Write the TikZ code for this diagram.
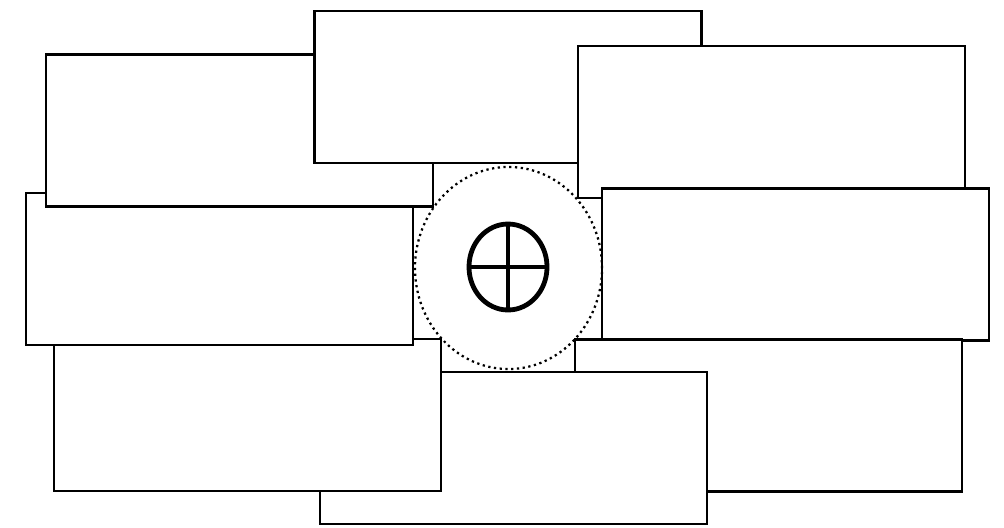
\documentclass[tikz,border=0pt]{standalone}
\usepackage{tikz}

\begin{document}
\begin{tikzpicture}[x=0.025cm, y=-0.025cm,
    card/.style={draw, fill=white, line width=1.8pt, minimum width=9.675cm,
        minimum height=3.8cm, inner sep=0pt, outer sep=0pt}]

    % The frame is measured in pixels, y pointing down
    \useasboundingbox (0,0) rectangle (1004,527);
    \def\rx{0.975cm}
    \def\ry{1.075cm}

    % The eight cards lie in a ring, each one partly under the next
    \node[card] (tc) at (508,87) {};
    \node[card] (tr) at (771.5,122) {};
    \node[card] (mr) at (795.5,264.5) {};
    \node[card] (br) at (768.5,415.5) {};
    \node[card] (bc) at (513.5,448) {};
    \node[card] (bl) at (247.5,415) {};
    \node[card] (ml) at (219.5,269) {};
    \node[card] (tl) at (239.5,130.5) {};

    % Close the ring: the top card lies over the top left one
    \begin{scope}
        \clip ([shift={(-2pt,2pt)}]tl.north west) rectangle ([shift={(2pt,-2pt)}]tl.south east);
        \node[card] (tcover) at (tc) {};
    \end{scope}

    % The dotted hub in the gap
    \coordinate (hub) at (508.5,268);
    \draw[line width=1.6pt, dash pattern=on 1.6pt off 2.5pt]
        (hub) ellipse [x radius=2.3375cm, y radius=2.525cm];

    % Crossed circle
    \coordinate (sym) at (508,267);
    \draw[line width=3.4pt] (sym) ellipse [x radius=\rx, y radius=\ry];
    \draw[line width=3.4pt] ([xshift=-\rx]sym) -- ([xshift=\rx]sym);
    \draw[line width=3.4pt] ([yshift=-\ry]sym) -- ([yshift=\ry]sym);

\end{tikzpicture}
\end{document}
